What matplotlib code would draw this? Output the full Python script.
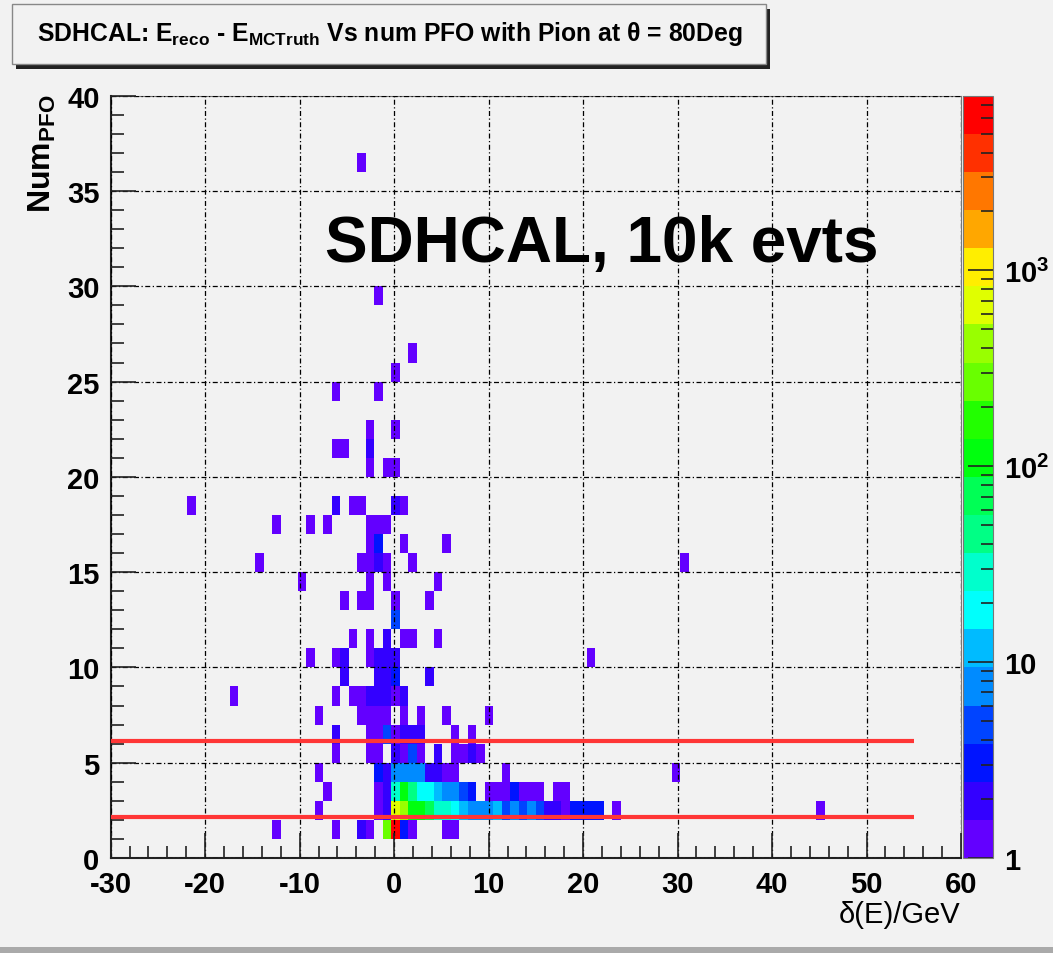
import colorsys
import numpy as np
import matplotlib
matplotlib.use("Agg")
import matplotlib.pyplot as plt
from matplotlib import font_manager as fm
from matplotlib.colors import ListedColormap, LogNorm
from matplotlib.patches import Rectangle
from matplotlib.ticker import MultipleLocator, LogLocator, NullFormatter, FuncFormatter

# filled cells of the 2D histogram: bin centre in dE [GeV], Num PFO, entries
de_gev = [
    # num PFO = 1
    -12.45, -6.15, -3.45, -2.55, -0.75, 0.15, 1.05, 1.95, 5.55, 6.45,
    # 2
    -7.95, -1.65, -0.75, 0.15, 1.05, 1.95, 2.85, 3.75, 4.65, 5.55, 6.45, 7.35, 8.25, 9.15,
    10.05, 10.95, 11.85, 12.75, 13.65, 14.55, 15.45, 16.35, 17.25, 18.15, 19.05, 19.95,
    20.85, 21.75, 23.55, 45.15,
    # 3
    -7.05, -1.65, -0.75, 0.15, 1.05, 1.95, 2.85, 3.75, 4.65, 5.55, 6.45, 7.35, 8.25,
    10.05, 10.95, 11.85, 12.75, 13.65, 14.55, 15.45, 17.25, 18.15,
    # 4
    -7.95, -1.65, -0.75, 0.15, 1.05, 1.95, 2.85, 3.75, 4.65, 5.55, 6.45, 11.85, 29.85,
    # 5
    -6.15, -2.55, -1.65, 0.15, 1.05, 1.95, 2.85, 4.65, 6.45, 7.35, 8.25, 9.15,
    # 6
    -6.15, -2.55, -1.65, -0.75, 0.15, 1.05, 1.95, 2.85, 6.45, 8.25,
    # 7
    -7.95, -3.45, -2.55, -1.65, -0.75, 1.05, 2.85, 5.55, 10.05,
    # 8
    -16.95, -6.15, -4.35, -3.45, -2.55, -1.65, -0.75, 0.15, 1.05,
    # 9
    -5.25, -1.65, -0.75, 0.15, 3.75,
    # 10
    -8.85, -6.15, -5.25, -2.55, -1.65, -0.75, 0.15, 20.85,
    # 11
    -4.35, -2.55, -0.75, 1.05, 1.95, 4.65,
    # 12
    0.15,
    # 13
    -5.25, -3.45, -2.55, 0.15, 3.75,
    # 14
    -9.75, -2.55, -0.75, 4.65,
    # 15
    -14.25, -3.45, -2.55, -1.65, -0.75, 1.95, 30.75,
    # 16
    -2.55, -1.65, 1.05, 5.55,
    # 17
    -12.45, -8.85, -7.05, -2.55, -1.65, -0.75,
    # 18
    -21.45, -6.15, -4.35, -3.45, 0.15, 1.05,
    # 20, 21, 22
    -2.55, -0.75, 0.15,
    -6.15, -5.25, -2.55,
    -2.55, 0.15,
    # 24, 25, 26, 29, 36
    -6.15, -1.65, 0.15, 1.95, -1.65, -3.45,
]
num_pfo = (
    [1] * 10 + [2] * 30 + [3] * 22 + [4] * 13 + [5] * 12 + [6] * 10 + [7] * 9 + [8] * 9
    + [9] * 5 + [10] * 8 + [11] * 6 + [12] * 1 + [13] * 5 + [14] * 4 + [15] * 7 + [16] * 4
    + [17] * 6 + [18] * 6 + [20] * 3 + [21] * 3 + [22] * 2 + [24] * 2 + [25, 26, 29, 36]
)
entries = [
    1, 1, 2, 1, 270, 7800, 3, 1, 1, 1,
    1, 1, 2, 650, 350, 110, 110, 70, 30, 30, 18, 12, 7, 7,
    7, 12, 4, 7, 4, 8, 4, 2, 2, 1, 3, 3,
    3, 3, 1, 1,
    1, 1, 2, 30, 110, 45, 18, 18, 12, 7, 7, 5, 3,
    1, 1, 1, 3, 1, 1, 1, 1, 1,
    1, 3, 2, 7, 7, 7, 7, 2, 2, 1, 1, 1, 1,
    1, 1, 1, 2, 1, 5, 1, 2, 1, 1, 2, 1,
    2, 1, 1, 5, 1, 2, 2, 2, 1, 1,
    1, 1, 1, 1, 1, 1, 1, 1, 1,
    1, 1, 1, 1, 2, 2, 2, 1, 2,
    2, 2, 2, 3, 2,
    1, 1, 2, 1, 2, 2, 2, 1,
    1, 1, 2, 1, 1, 1,
    5,
    1, 1, 1, 1, 1,
    1, 1, 1, 1,
    1, 1, 1, 2, 1, 1, 1,
    1, 3, 1, 1,
    1, 1, 1, 1, 1, 1,
    1, 2, 1, 1, 2, 1,
    1, 1, 1,
    1, 1, 2,
    1, 1,
    1, 1, 1, 1, 1, 1,
]

x_edges = np.linspace(-30, 60, 101)
y_edges = np.arange(0, 41)
z_max = 7800
cut_lines = [6.15, 2.15]

names = {f.name for f in fm.fontManager.ttflist}
narrow = "Liberation Sans Narrow" if "Liberation Sans Narrow" in names else "Liberation Sans"
plt.rcParams["font.family"] = [narrow, "DejaVu Sans"]
plt.rcParams["font.weight"] = "bold"
plt.rcParams["mathtext.default"] = "regular"
plt.rcParams["axes.unicode_minus"] = False

# ROOT pretty palette (violet -> red), 20 contour levels
cols = []
for k in range(20):
    idx = int((k + 0.99) * 50 / 20)
    hue = 280 - (idx + 1) * 280 / 50
    cols.append(colorsys.hls_to_rgb(hue / 360, 0.5, 1.0))
cmap = ListedColormap(cols)

W, H = 1053, 954
bg = "#f2f2f2"
fig = plt.figure(figsize=(W / 100, H / 100), dpi=100, facecolor=bg)


def box(x0, y0, x1, y1):
    # pixel box -> figure fraction rect
    return [x0 / W, 1 - y1 / H, (x1 - x0) / W, (y1 - y0) / H]


ax = fig.add_axes(box(110.7, 96.7, 961, 859), facecolor=bg)
cax = fig.add_axes(box(963, 96.7, 993, 859))

h, _, _ = np.histogram2d(de_gev, num_pfo, bins=[x_edges, y_edges], weights=entries)
mesh = ax.pcolormesh(x_edges, y_edges, np.ma.masked_equal(h.T, 0),
                     cmap=cmap, norm=LogNorm(1, z_max), zorder=1)

ax.set_xlim(-30, 60)
ax.set_ylim(0, 40)
ax.set_axisbelow(False)
ax.grid(True, which="major", color="k", linestyle=(0, (4, 2, 1, 2)), lw=0.9)
ax.hlines(cut_lines, -30, 55, color="#ff3636", lw=3, zorder=5)

ax.xaxis.set_major_locator(MultipleLocator(10))
ax.xaxis.set_minor_locator(MultipleLocator(2))
ax.yaxis.set_major_locator(MultipleLocator(5))
ax.yaxis.set_minor_locator(MultipleLocator(1))
ax.tick_params(which="both", direction="in", top=False, right=False, width=1.2, color="#222")
ax.tick_params(which="major", length=18, labelsize=21)
ax.tick_params(which="minor", length=9)
ax.tick_params(axis="x", pad=9)
ax.tick_params(axis="y", pad=8)
for s in ["top", "right"]:
    ax.spines[s].set_color("#777")
for s in ["left", "bottom"]:
    ax.spines[s].set_color("#222")
    ax.spines[s].set_linewidth(1.5)

cb = fig.colorbar(mesh, cax=cax)
cb.outline.set_edgecolor("#777")
cax.yaxis.set_major_locator(LogLocator(base=10))
cax.yaxis.set_minor_locator(LogLocator(base=10, subs=np.arange(2, 10)))
cax.yaxis.set_minor_formatter(NullFormatter())
cax.yaxis.set_major_formatter(FuncFormatter(
    lambda v, p: "%d" % v if v < 50 else "10$^{%d}$" % round(np.log10(v))))
cax.tick_params(which="both", direction="in", width=1.2, color="#222")
cax.tick_params(which="major", length=18, labelsize=21, pad=8)
cax.tick_params(which="minor", length=9)

# axis titles
fig.text(42 / W, 1 - 95 / H, "Num$_{PFO}$", rotation=90, ha="center", va="top", fontsize=23)
fig.text(960 / W, 1 - 915 / H, "δ(E)/GeV", ha="right", va="center", fontsize=21, fontweight="normal")

# title box with shadow
fig.patches.append(Rectangle((16 / W, 1 - 70 / H), 754 / W, 60 / H, transform=fig.transFigure,
                             fc="#222", ec="none"))
fig.patches.append(Rectangle((12 / W, 1 - 65 / H), 754 / W, 60 / H, transform=fig.transFigure,
                             fc=bg, ec="#888", lw=1))
fig.text(390 / W, 1 - 41 / H, "SDHCAL: E$_{reco}$ - E$_{MCTruth}$ Vs num PFO with Pion at θ = 80Deg",
         ha="center", va="baseline", fontsize=17.8)

fig.text(325 / W, 1 - 262 / H, "SDHCAL, 10k evts", family="Liberation Sans", fontweight="bold",
         fontsize=46, ha="left", va="baseline")

# pad bottom edge
fig.patches.append(Rectangle((0, 0), 1, 6 / H, transform=fig.transFigure, fc="#aaaaaa", ec="none"))

fig.savefig("out.png", dpi=100, facecolor=bg)
